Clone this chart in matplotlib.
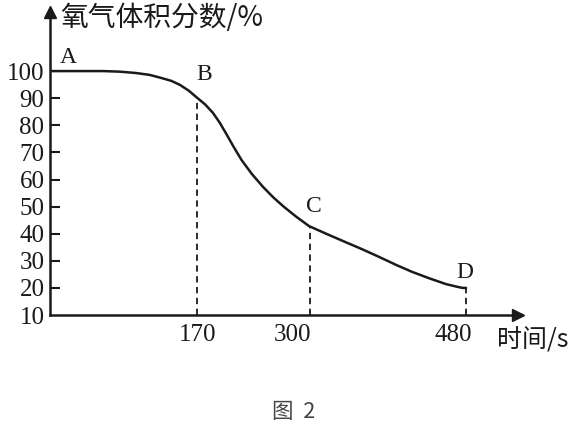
import matplotlib.pyplot as plt

# curve (time in s, oxygen volume fraction in %)
time_s = [0, 30, 62, 80, 99, 115, 128, 140, 150, 160, 170, 179, 188, 196, 204, 212,
          221, 233, 246, 258, 270, 284, 299, 320, 341, 360, 380, 400, 418, 438, 457,
          470, 476, 480]
oxygen = [100, 100, 100, 99.8, 99.3, 98.6, 97.5, 96.4, 94.9, 92.8, 90.1, 87.7, 84.6,
          80.9, 76.5, 72.0, 67.2, 62, 57.2, 53.3, 49.9, 46.3, 42.8, 39.8, 36.9, 34.3,
          31.4, 28.4, 25.9, 23.5, 21.4, 20.4, 20.0, 20.0]

point_names = ["A", "B", "C", "D"]
point_x = [0, 170, 300, 480]
point_y = [100, 90.1, 42.5, 20.0]

y_ticks = [10, 20, 30, 40, 50, 60, 70, 80, 90, 100]
x_ticks = [170, 300, 480]

ink = "#1a1a1a"
serif = "Liberation Serif"
cjk = ["Noto Sans CJK SC", "DejaVu Sans"]

fig = plt.figure(figsize=(5.76, 4.29), dpi=100)
ax = fig.add_axes([0.0868, 0.2657, 0.8125, 0.7063])
ax.set_xlim(0, 540)
ax.set_ylim(10, 121.8)

ax.plot(time_s, oxygen, color=ink, lw=1.8, solid_capstyle="round", solid_joinstyle="round")

# dashed drop lines at B, C, D
for x, y in zip(point_x[1:], point_y[1:]):
    ax.plot([x, x], [10, y], color=ink, lw=1.3, ls=(0, (3.5, 2.5)))

# point letters (offsets in pixels)
offsets = {"A": (18, 14), "B": (7, 23), "C": (4, 20), "D": (-1, 15)}
for name, x, y in zip(point_names, point_x, point_y):
    ax.annotate(name, (x, y), xytext=offsets[name], textcoords="offset pixels",
                fontsize=17, family=serif, color=ink, ha="center", va="center")

for side in ["top", "right"]:
    ax.spines[side].set_visible(False)
for side in ["left", "bottom"]:
    ax.spines[side].set_linewidth(1.8)
    ax.spines[side].set_color(ink)

# arrow heads
ax.plot(1, 0, ">", color=ink, ms=8, transform=ax.transAxes, clip_on=False)
ax.plot(0, 1, "^", color=ink, ms=8, transform=ax.transAxes, clip_on=False)

ax.set_yticks(y_ticks)
ax.set_yticklabels([str(v) for v in y_ticks], fontsize=18, family=serif)
ax.tick_params(axis="y", direction="in", length=7, width=1.5, pad=4, colors=ink)
ax.get_yticklines()[0].set_visible(False)

# x labels sit a little left of their drop lines in the reference
ax.set_xticks([])
label_shift = {170: 0, 300: -17, 480: -13}
for v in x_ticks:
    ax.annotate(str(v), (v, 10), xytext=(label_shift[v], -20), textcoords="offset pixels",
                fontsize=18, family=serif, color=ink, ha="center", va="center",
                annotation_clip=False)

ax.text(60 / 576, 1 - 18 / 429, "氧气体积分数/%", transform=fig.transFigure, fontsize=20,
        family=cjk, ha="left", va="center", color=ink)
ax.text(497 / 576, 1 - 341 / 429, "时间/s", transform=fig.transFigure, fontsize=18,
        family=cjk, ha="left", va="center", color=ink)

fig.text(294 / 576, 1 - 412 / 429, "图  2", fontsize=15.5, family=cjk, ha="center",
         va="center", color="#444444")

fig.savefig("out.png", dpi=100)
